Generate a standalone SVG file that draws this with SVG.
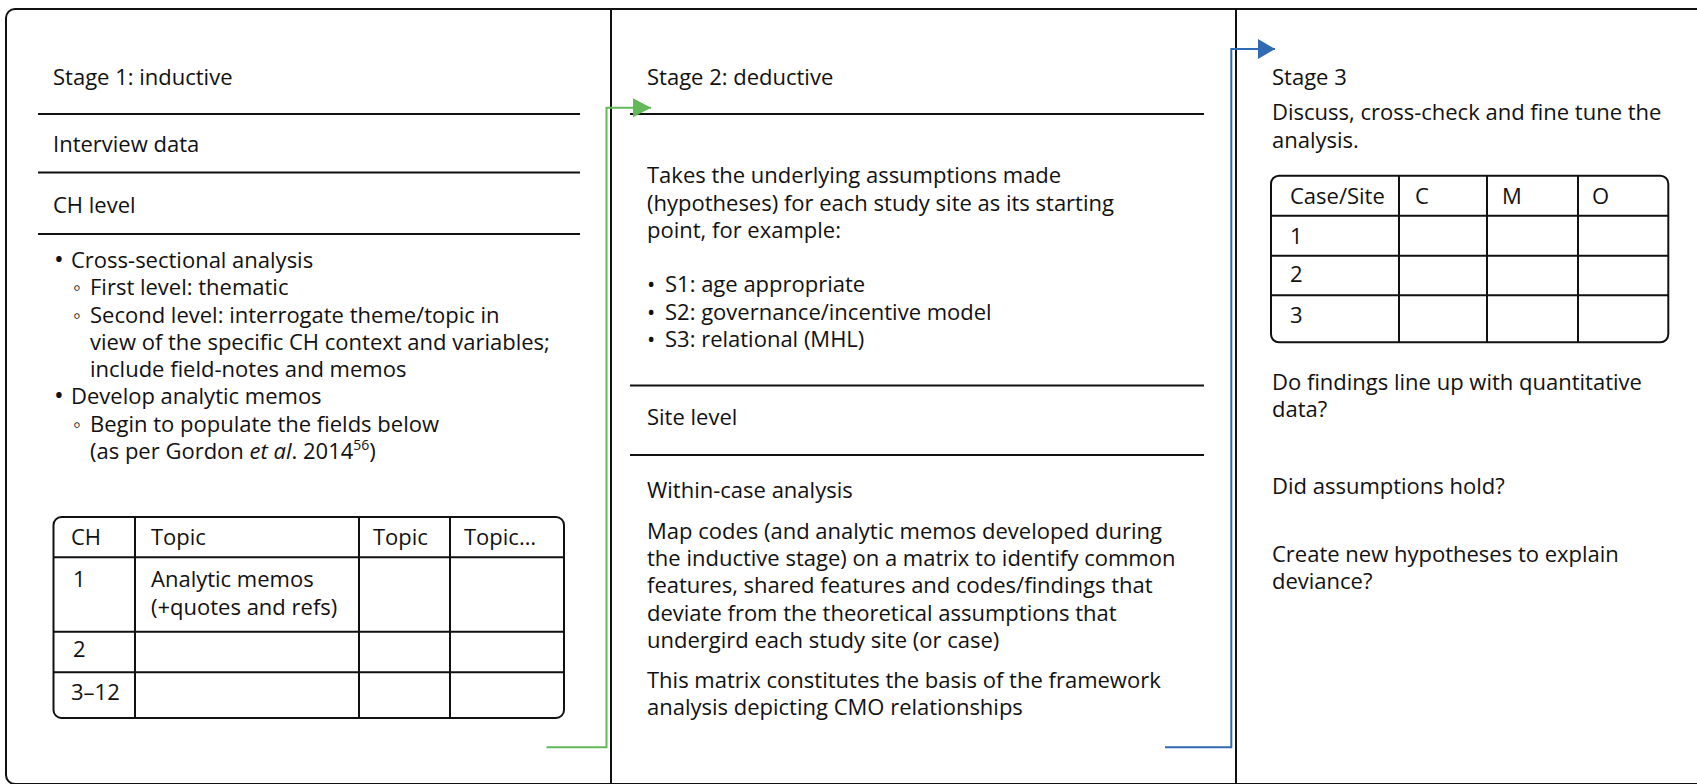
<svg xmlns="http://www.w3.org/2000/svg" width="1697" height="784" viewBox="0 0 1697 784">
<style>
text{font-family:"Open Sans","Noto Sans","Liberation Sans",sans-serif;font-size:22px;fill:#111}
.b{font-size:26px}
.rule{stroke:#111;stroke-width:2;fill:none}
.frame{stroke:#111;stroke-width:2;fill:#fff}
.tbl{stroke:#111;stroke-width:2;fill:none}
.green{stroke:#62b957;stroke-width:2;fill:none}
.blue{stroke:#2f6ab3;stroke-width:2;fill:none}
</style>
<defs>
<marker id="ag" markerUnits="userSpaceOnUse" markerWidth="19" markerHeight="20" refX="18" refY="9.5" orient="auto"><path d="M0,0 L18,9.5 L0,19 Z" fill="#62b957"/></marker>
<marker id="ab" markerUnits="userSpaceOnUse" markerWidth="19" markerHeight="21" refX="17" refY="10" orient="auto"><path d="M0,0 L17,10 L0,20 Z" fill="#2f6ab3"/></marker>
</defs>
<rect width="1697" height="784" fill="#fff"/>
<g id="frame">
<rect class="frame" x="6" y="9" width="1760" height="775" rx="9"/>
<line class="rule" x1="611" y1="9" x2="611" y2="784"/>
<line class="rule" x1="1236" y1="9" x2="1236" y2="784"/>
</g>
<g id="stage1">
<text x="53" y="85">Stage 1: inductive</text>
<line class="rule" x1="38" y1="114" x2="580" y2="114"/>
<text x="53" y="151.5">Interview data</text>
<line class="rule" x1="38" y1="172.5" x2="580" y2="172.5"/>
<text x="53" y="213">CH level</text>
<line class="rule" x1="38" y1="234" x2="580" y2="234"/>
<text x="54" y="268"><tspan class="b">•</tspan><tspan x="71">Cross-sectional analysis</tspan></text>
<text x="73" y="295">◦<tspan x="90">First level: thematic</tspan></text>
<text x="73" y="322.5">◦<tspan x="90">Second level: interrogate theme/topic in</tspan></text>
<text x="90" y="350">view of the specific CH context and variables;</text>
<text x="90" y="377">include field-notes and memos</text>
<text x="54" y="404"><tspan class="b">•</tspan><tspan x="71">Develop analytic memos</tspan></text>
<text x="73" y="431.5">◦<tspan x="90">Begin to populate the fields below</tspan></text>
<text x="90" y="458.5">(as per Gordon <tspan font-style="italic">et al</tspan>. 2014<tspan font-size="14" dy="-9">56</tspan><tspan dy="9">)</tspan></text>
</g>
<g id="table1">
<rect class="tbl" x="53.5" y="517" width="510.5" height="201" rx="8"/>
<line class="tbl" x1="53.5" y1="557.3" x2="564" y2="557.3"/>
<line class="tbl" x1="53.5" y1="631.7" x2="564" y2="631.7"/>
<line class="tbl" x1="53.5" y1="672.3" x2="564" y2="672.3"/>
<line class="tbl" x1="135" y1="517" x2="135" y2="718"/>
<line class="tbl" x1="359" y1="517" x2="359" y2="718"/>
<line class="tbl" x1="450" y1="517" x2="450" y2="718"/>
<text x="71" y="545">CH</text>
<text x="151" y="545">Topic</text>
<text x="373" y="545">Topic</text>
<text x="464" y="545">Topic…</text>
<text x="73" y="587">1</text>
<text x="151" y="587">Analytic memos</text>
<text x="151" y="615">(+quotes and refs)</text>
<text x="73" y="657">2</text>
<text x="71" y="700">3–12</text>
</g>
<g id="stage2">
<text x="647" y="85">Stage 2: deductive</text>
<line class="rule" x1="630" y1="114" x2="1204" y2="114"/>
<text x="647" y="183">Takes the underlying assumptions made</text>
<text x="647" y="210.5">(hypotheses) for each study site as its starting</text>
<text x="647" y="237.5">point, for example:</text>
<text x="647" y="292">•<tspan x="665">S1: age appropriate</tspan></text>
<text x="647" y="319.5">•<tspan x="665">S2: governance/incentive model</tspan></text>
<text x="647" y="346.5">•<tspan x="665">S3: relational (MHL)</tspan></text>
<line class="rule" x1="630" y1="385.5" x2="1204" y2="385.5"/>
<text x="647" y="425">Site level</text>
<line class="rule" x1="630" y1="455" x2="1204" y2="455"/>
<text x="647" y="498">Within-case analysis</text>
<text x="647" y="539">Map codes (and analytic memos developed during</text>
<text x="647" y="566">the inductive stage) on a matrix to identify common</text>
<text x="647" y="593">features, shared features and codes/findings that</text>
<text x="647" y="620.5">deviate from the theoretical assumptions that</text>
<text x="647" y="647.5">undergird each study site (or case)</text>
<text x="647" y="687.5">This matrix constitutes the basis of the framework</text>
<text x="647" y="715">analysis depicting CMO relationships</text>
</g>
<g id="stage3">
<text x="1272" y="85">Stage 3</text>
<text x="1272" y="120">Discuss, cross-check and fine tune the</text>
<text x="1272" y="147.5">analysis.</text>
<text x="1272" y="390">Do findings line up with quantitative</text>
<text x="1272" y="417">data?</text>
<text x="1272" y="494">Did assumptions hold?</text>
<text x="1272" y="561.5">Create new hypotheses to explain</text>
<text x="1272" y="589">deviance?</text>
</g>
<g id="table3">
<rect class="tbl" x="1271" y="175.7" width="397.3" height="166.6" rx="8"/>
<line class="tbl" x1="1271" y1="215.7" x2="1668.3" y2="215.7"/>
<line class="tbl" x1="1271" y1="255.7" x2="1668.3" y2="255.7"/>
<line class="tbl" x1="1271" y1="295.3" x2="1668.3" y2="295.3"/>
<line class="tbl" x1="1399" y1="175.7" x2="1399" y2="342.3"/>
<line class="tbl" x1="1487" y1="175.7" x2="1487" y2="342.3"/>
<line class="tbl" x1="1578" y1="175.7" x2="1578" y2="342.3"/>
<text x="1290" y="203.5">Case/Site</text>
<text x="1415" y="203.5">C</text>
<text x="1502" y="203.5">M</text>
<text x="1592" y="203.5">O</text>
<text x="1290" y="243.5">1</text>
<text x="1290" y="282">2</text>
<text x="1290" y="323">3</text>
</g>
<g id="connectors">
<path class="green" d="M546.5 747.3 H606.5 V107.7 H651" marker-end="url(#ag)"/>
<path class="blue" d="M1165 747.3 H1231.3 V49 H1275" marker-end="url(#ab)"/>
</g>
</svg>
